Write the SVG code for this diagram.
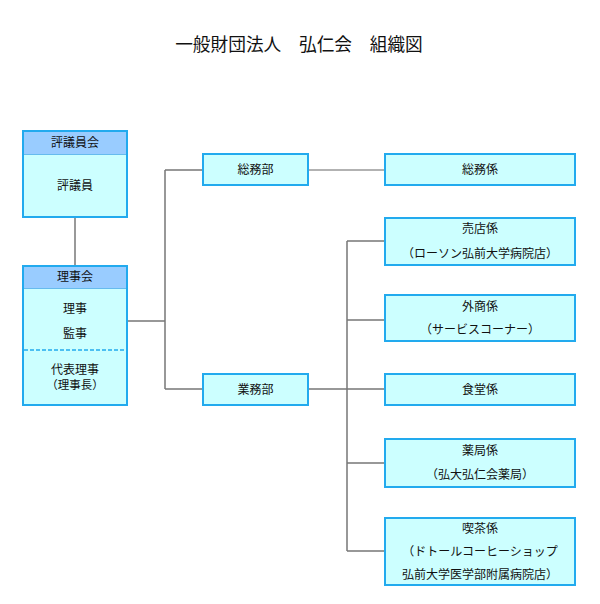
<svg xmlns="http://www.w3.org/2000/svg" width="600" height="604" viewBox="0 0 600 604">
<style>
.box{fill:#ccffff;stroke:#22aaee;stroke-width:2}
.hdr{fill:#99ccff;stroke:none}
.hl{stroke:#66bbee;stroke-width:1}
.dash{stroke:#22aaee;stroke-width:1.5;stroke-dasharray:4,2}
.t{font-family:"Noto Sans CJK JP","Noto Sans CJK SC",sans-serif;font-size:12px;fill:#111;text-anchor:middle}
.title{font-family:"Noto Sans CJK JP","Noto Sans CJK SC",sans-serif;font-size:17.7px;fill:#111;text-anchor:middle}
.c{fill:none;stroke:#777;stroke-width:1.5}
</style>
<rect width="600" height="604" fill="#fff"/>
<text class="title" x="299" y="51">一般財団法人　弘仁会　組織図</text>
<g id="connectors">
<path class="c" d="M75,217 V265"/>
<path class="c" d="M127,321 H165 M165,170 V389 M165,170 H203 M165,389 H203"/>
<path class="c" d="M309,170 H385" style="stroke:#999"/>
<path class="c" d="M309,389 H385 M347,241 V551 M347,241 H385 M347,320 H385 M347,463 H385 M347,551 H385"/>
</g>
<g id="hyogiinkai">
<rect class="box" x="23" y="131" width="104" height="86"/>
<rect class="hdr" x="24" y="132" width="102" height="22"/>
<line class="hl" x1="24" y1="154.5" x2="126" y2="154.5"/>
<text class="t" x="75" y="147">評議員会</text>
<text class="t" x="75" y="190">評議員</text>
</g>
<g id="rijikai">
<rect class="box" x="23" y="266" width="104" height="139"/>
<rect class="hdr" x="24" y="267" width="102" height="21"/>
<line class="hl" x1="24" y1="288.5" x2="126" y2="288.5"/>
<line class="dash" x1="24" y1="350" x2="126" y2="350"/>
<text class="t" x="75" y="281">理事会</text>
<text class="t" x="75" y="313">理事</text>
<text class="t" x="75" y="338">監事</text>
<text class="t" x="75" y="374">代表理事</text>
<text class="t" x="75" y="389" style="font-size:11.5px">（理事長）</text>
</g>
<g id="somubu">
<rect class="box" x="203" y="154" width="105" height="31"/>
<text class="t" x="255.5" y="174">総務部</text>
</g>
<g id="gyomubu">
<rect class="box" x="203" y="374" width="105" height="31"/>
<text class="t" x="255.5" y="394">業務部</text>
</g>
<g id="somugakari">
<rect class="box" x="385" y="154" width="190" height="31"/>
<text class="t" x="480" y="174">総務係</text>
</g>
<g id="baiten">
<rect class="box" x="385" y="218" width="190" height="47"/>
<text class="t" x="480" y="233">売店係</text>
<text class="t" x="480" y="258">（ローソン弘前大学病院店）</text>
</g>
<g id="gaisho">
<rect class="box" x="385" y="295" width="190" height="46"/>
<text class="t" x="480" y="311">外商係</text>
<text class="t" x="480" y="334">（サービスコーナー）</text>
</g>
<g id="shokudo">
<rect class="box" x="385" y="374" width="190" height="31"/>
<text class="t" x="480" y="394">食堂係</text>
</g>
<g id="yakkyoku">
<rect class="box" x="385" y="439" width="190" height="48"/>
<text class="t" x="480" y="455">薬局係</text>
<text class="t" x="480" y="479">（弘大弘仁会薬局）</text>
</g>
<g id="kissa">
<rect class="box" x="385" y="518" width="190" height="67"/>
<text class="t" x="480" y="533">喫茶係</text>
<text class="t" x="480" y="556">（ドトールコーヒーショップ</text>
<text class="t" x="480" y="579">弘前大学医学部附属病院店）</text>
</g>
</svg>
